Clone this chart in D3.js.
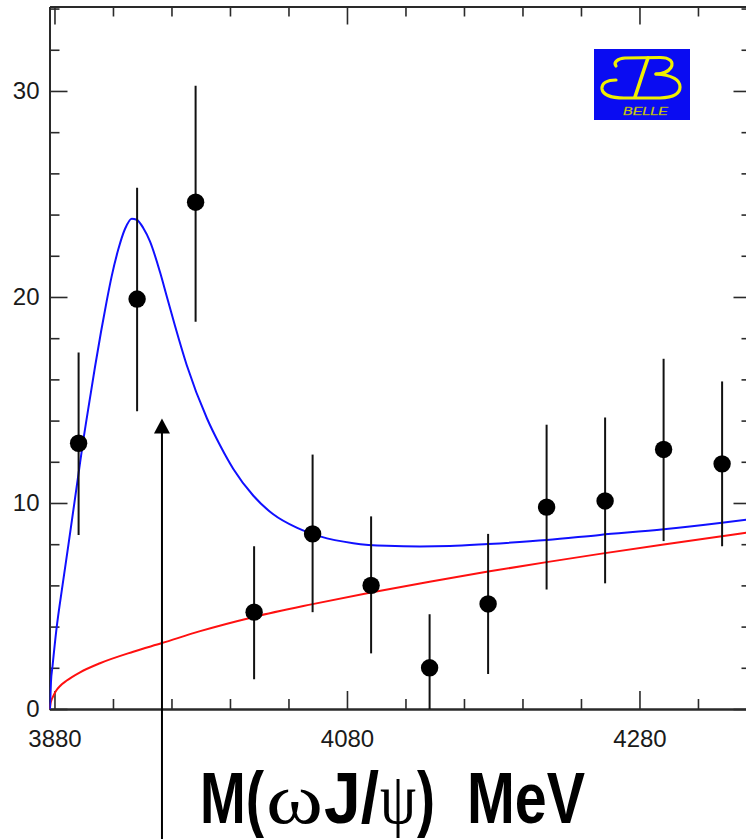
<!DOCTYPE html>
<html>
<head>
<meta charset="utf-8">
<script src="https://cdn.jsdelivr.net/npm/d3@7"></script>
<style>
  html, body { margin: 0; padding: 0; background: #fff; }
  svg { display: block; }
</style>
</head>
<body>
<script>
// ---- Measured spectrum: efficiency-corrected events per 40 MeV bin ----
const massCenters = [3896.5, 3936.5, 3976.5, 4016.5, 4056.5, 4096.5, 4136.5, 4176.5, 4216.5, 4256.5, 4296.5, 4336.5];
const eventCounts = [12.9, 19.9, 24.6, 4.7, 8.5, 6.0, 2.0, 5.1, 9.8, 10.1, 12.6, 11.9];
const errDown     = [4.45, 5.45, 5.8, 3.25, 3.8, 3.3, 2.6, 3.4, 4.0, 4.0, 4.45, 4.0];
const errUp       = [4.4, 5.4, 5.65, 3.2, 3.85, 3.35, 2.6, 3.4, 4.0, 4.05, 4.4, 4.0];

// ---- Fit result: resonance + background (blue) ----
const fitMass  = [3876.9, 3877.6, 3878.7, 3881.4, 3885.5, 3889.6, 3893.4, 3896.4, 3899.2, 3904.3, 3907.7,
                  3911.8, 3915.7, 3919.1, 3923.6, 3928.2, 3932.8, 3936.2, 3940.7, 3945.3, 3952.2, 3956.9,
                  3962.4, 3970.4, 3984.3, 3993.2, 4002.3, 4016.0, 4029.6, 4045.6, 4061.6, 4084.3, 4107.2,
                  4129.9, 4150.4, 4176.6, 4216.6, 4253.0, 4296.6, 4336.4, 4356.6];
const fitValue = [0, 1.3, 2.1, 3.9, 6.0, 8.0, 9.9, 11.4, 12.8, 15.1, 16.6,
                  18.3, 19.8, 21.0, 22.3, 23.3, 23.8, 23.75, 23.35, 22.7, 21.2, 20.0,
                  18.6, 16.7, 14.1, 12.8, 11.65, 10.35, 9.45, 8.8, 8.38, 8.05, 7.92,
                  7.89, 7.91, 8.01, 8.2, 8.45, 8.72, 9.04, 9.22];

// ---- Fit result: background only (red) ----
const bkgMass  = [3876.9, 3877.2, 3877.8, 3879.0, 3880.8, 3884.0, 3888.4, 3897.5, 3911.1, 3933.9, 3953.5, 3979.6,
                  4016.4, 4056.5, 4096.4, 4136.5, 4176.5, 4216.5, 4253.0, 4296.6, 4336.4, 4356.6];
const bkgValue = [0, 0.22, 0.4, 0.6, 0.85, 1.13, 1.38, 1.78, 2.22, 2.78, 3.2, 3.78,
                  4.47, 5.09, 5.66, 6.18, 6.67, 7.13, 7.53, 7.99, 8.39, 8.59];

// ---- Axis ticks ----
const xMajorTicks = [3880, 4080, 4280];
const xMinorTicks = d3.range(3880, 4360, 40);
const yMajorTicks = [0, 10, 20, 30];
const yMinorTicks = d3.range(0, 34.1, 2);

// ---- Marker arrow (mass position and tip height) ----
const arrowMass = [3953.5];
const arrowTip  = [14.1];

const W = 746, H = 839;
const svg = d3.select("body").append("svg")
  .attr("width", W).attr("height", H)
  .attr("viewBox", `0 0 ${W} ${H}`);

const frame = { left: 49.5, right: 751.5, top: 6.5, bottom: 709 };
const x = d3.scaleLinear().domain([3876.6, 4356.6]).range([frame.left, frame.right]);
const y = d3.scaleLinear().domain([0, 34.1]).range([frame.bottom, frame.top]);

const sans = "'Liberation Sans', Arial, Helvetica, sans-serif";
const serif = "'Liberation Serif', 'Times New Roman', Times, serif";
const axisColor = "#2a2a2a";

svg.append("defs").append("clipPath").attr("id", "plotClip")
  .append("rect")
  .attr("x", frame.left).attr("y", frame.top)
  .attr("width", frame.right - frame.left).attr("height", frame.bottom - frame.top);

// ---- Axes: ticks point into the frame on all four sides ----
function styleAxis(g) {
  g.selectAll(".domain").attr("stroke", axisColor).attr("stroke-width", 2);
  g.selectAll(".tick line").attr("stroke", axisColor).attr("stroke-width", 1.6);
  g.selectAll(".tick text").attr("fill", "#1a1a1a").attr("font-family", sans).attr("font-size", 24);
}
const minorX = xMinorTicks.filter(v => !xMajorTicks.includes(v));
const minorY = yMinorTicks.filter(v => !yMajorTicks.includes(v));

// bottom
svg.append("g").attr("transform", `translate(0,${frame.bottom})`)
  .call(d3.axisBottom(x).tickValues(minorX).tickSize(-10).tickSizeOuter(0).tickFormat(""))
  .call(styleAxis);
svg.append("g").attr("transform", `translate(0,${frame.bottom})`)
  .call(d3.axisBottom(x).tickValues(xMajorTicks).tickSize(-18).tickSizeOuter(0).tickPadding(21).tickFormat(d3.format("d")))
  .call(styleAxis);
// top
svg.append("g").attr("transform", `translate(0,${frame.top})`)
  .call(d3.axisTop(x).tickValues(minorX).tickSize(-10).tickSizeOuter(0).tickFormat(""))
  .call(styleAxis);
svg.append("g").attr("transform", `translate(0,${frame.top})`)
  .call(d3.axisTop(x).tickValues(xMajorTicks).tickSize(-18).tickSizeOuter(0).tickFormat(""))
  .call(styleAxis);
// left
svg.append("g").attr("transform", `translate(${frame.left},0)`)
  .call(d3.axisLeft(y).tickValues(minorY).tickSize(-10).tickSizeOuter(0).tickFormat(""))
  .call(styleAxis);
svg.append("g").attr("transform", `translate(${frame.left},0)`)
  .call(d3.axisLeft(y).tickValues(yMajorTicks).tickSize(-18).tickSizeOuter(0).tickPadding(10).tickFormat(d3.format("d")))
  .call(styleAxis);
// right
svg.append("g").attr("transform", `translate(${frame.right},0)`)
  .call(d3.axisRight(y).tickValues(minorY).tickSize(-10).tickSizeOuter(0).tickFormat(""))
  .call(styleAxis);
svg.append("g").attr("transform", `translate(${frame.right},0)`)
  .call(d3.axisRight(y).tickValues(yMajorTicks).tickSize(-18).tickSizeOuter(0).tickFormat(""))
  .call(styleAxis);

const plot = svg.append("g").attr("clip-path", "url(#plotClip)");

// ---- Fit curves ----
const curveLine = d3.line().x(d => x(d[0])).y(d => y(d[1])).curve(d3.curveMonotoneX);

plot.append("path")
  .datum(d3.zip(bkgMass, bkgValue))
  .attr("d", curveLine)
  .attr("fill", "none").attr("stroke", "#ff1010").attr("stroke-width", 2);

plot.append("path")
  .datum(d3.zip(fitMass, fitValue))
  .attr("d", curveLine)
  .attr("fill", "none").attr("stroke", "#1010ff").attr("stroke-width", 2);

// ---- Data points with error bars ----
const points = massCenters.map((m, i) => ({ m, v: eventCounts[i], lo: errDown[i], hi: errUp[i] }));

plot.selectAll("line.err").data(points).enter().append("line")
  .attr("class", "err")
  .attr("x1", d => x(d.m)).attr("x2", d => x(d.m))
  .attr("y1", d => y(Math.max(0, d.v - d.lo)))
  .attr("y2", d => y(d.v + d.hi))
  .attr("stroke", "#111").attr("stroke-width", 2);

plot.selectAll("circle.pt").data(points).enter().append("circle")
  .attr("class", "pt")
  .attr("cx", d => x(d.m)).attr("cy", d => y(d.v))
  .attr("r", 8.7).attr("fill", "#000");

// ---- Arrow marking the resonance position ----
arrowMass.forEach((m, i) => {
  const ax = x(m), ay = y(arrowTip[i]);
  svg.append("line")
    .attr("x1", ax).attr("x2", ax)
    .attr("y1", ay + 12).attr("y2", H)
    .attr("stroke", "#000").attr("stroke-width", 2);
  svg.append("path")
    .attr("d", `M${ax},${ay} L${ax - 8},${ay + 15} L${ax + 8},${ay + 15} Z`)
    .attr("fill", "#000");
});

// ---- Axis title: M(ωJ/ψ) MeV, each piece squeezed horizontally to its slot ----
const titlePieces = [
  { t: "M(",  x: 200, w: 64,  font: sans,  weight: "bold" },
  { t: "ω",   x: 266, w: 57,  font: serif, weight: "normal" },
  { t: "J/",  x: 324, w: 55,  font: sans,  weight: "bold" },
  { t: "ψ",   x: 380, w: 36,  font: serif, weight: "normal" },
  { t: ")",   x: 417, w: 18,  font: sans,  weight: "bold" },
  { t: "MeV", x: 467, w: 118, font: sans,  weight: "bold" }
];
titlePieces.forEach(p => {
  const t = svg.append("text")
    .attr("x", 0).attr("y", 0)
    .attr("font-family", p.font).attr("font-weight", p.weight)
    .attr("font-size", 72).attr("fill", "#000")
    .text(p.t);
  const natural = t.node().getComputedTextLength();
  t.attr("transform", `translate(${p.x},823) scale(${p.w / natural},1)`);
});

// ---- Experiment logo ----
const logo = svg.append("g").attr("transform", "translate(594,49)");
logo.append("rect").attr("width", 96).attr("height", 71).attr("fill", "#0a0cf2");
const yellow = "#f0f000";
// upper swash and upper bowl
logo.append("path")
  .attr("d", "M22,17 C19,13 24,9.5 31,9 L66,8.5 C76,8.5 80,13 77,18.5 C74,23 68,25 62,25")
  .attr("fill", "none").attr("stroke", yellow).attr("stroke-width", 3.2).attr("stroke-linecap", "round");
// lower bowl and lower swash
logo.append("path")
  .attr("d", "M62,25 C76,26 86,30 86,38 C86,45 79,48.5 66,49 L30,49 C18,49 9,46 8,40 C7.5,34 13,31 22,31")
  .attr("fill", "none").attr("stroke", yellow).attr("stroke-width", 3.2).attr("stroke-linecap", "round");
// stem
logo.append("path")
  .attr("d", "M54,9 C50,20 46,33 41,48")
  .attr("fill", "none").attr("stroke", yellow).attr("stroke-width", 3.6).attr("stroke-linecap", "round");
logo.append("text")
  .attr("x", 29).attr("y", 65.5)
  .attr("font-family", sans).attr("font-style", "italic")
  .attr("font-size", 11.5).attr("fill", "#e8e800")
  .attr("stroke", "#8a8a30").attr("stroke-width", 0.3)
  .attr("textLength", 45).attr("lengthAdjust", "spacingAndGlyphs")
  .text("BELLE");
</script>
</body>
</html>
